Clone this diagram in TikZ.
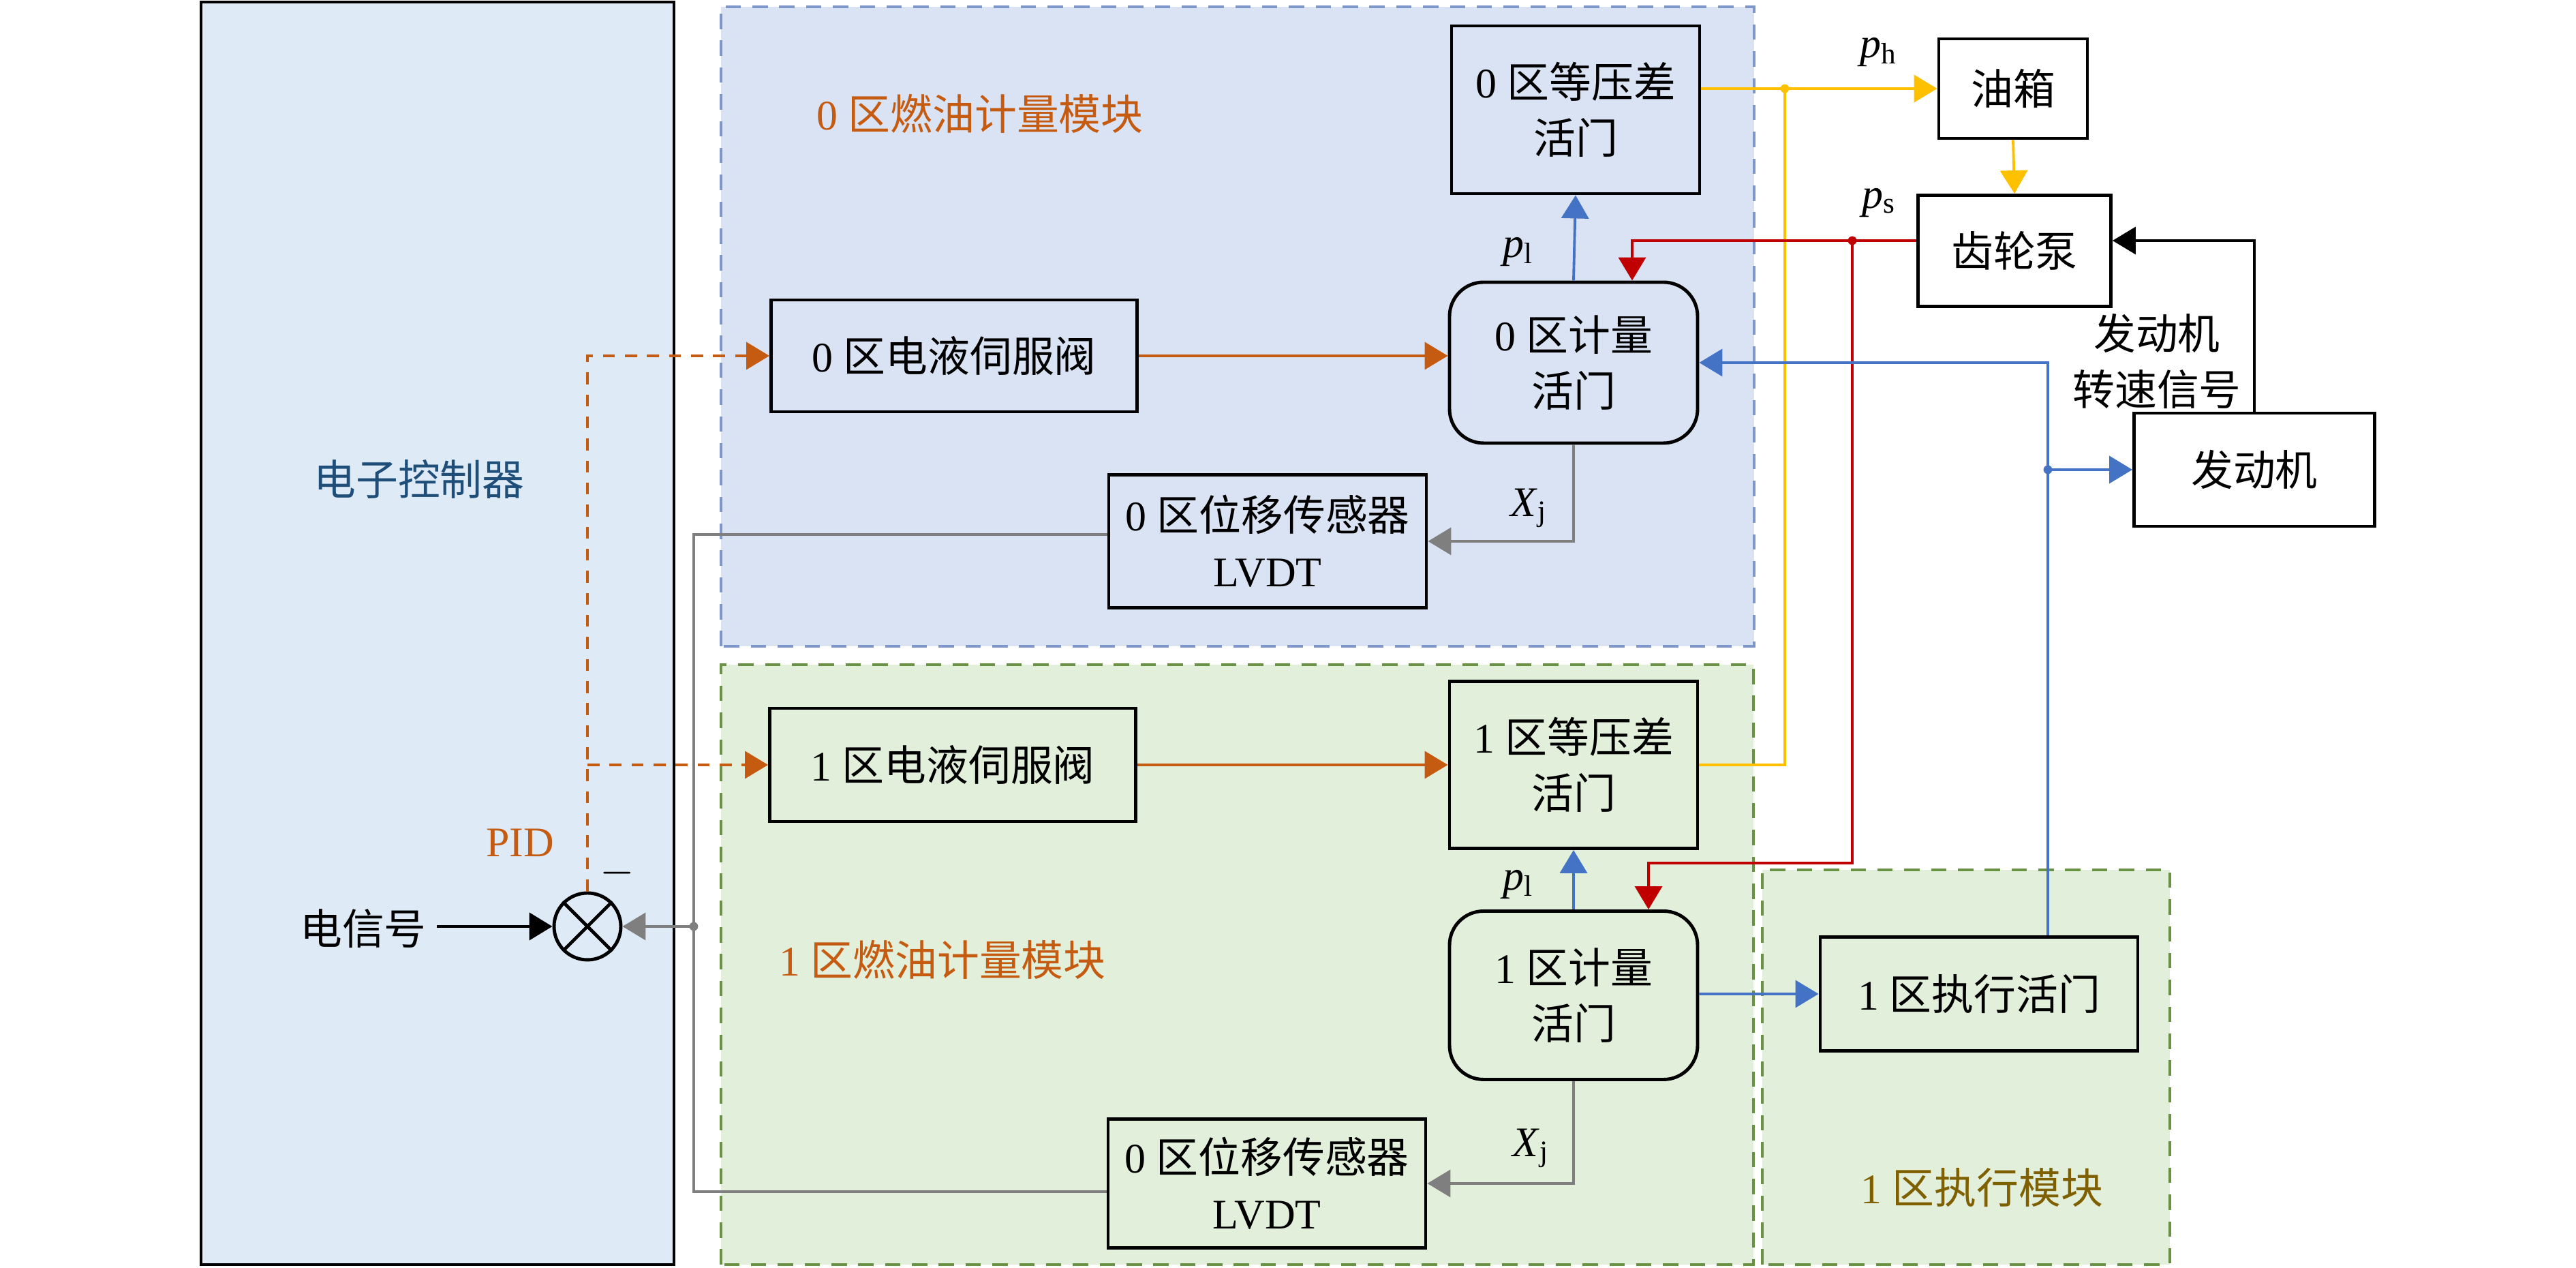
\documentclass[tikz,border=0pt]{standalone}
\usepackage{fontspec}
\setmainfont{Liberation Serif}
\newfontfamily\cjk{Noto Sans CJK SC}
\usetikzlibrary{arrows.meta}

\definecolor{zoneA}{HTML}{DAE3F3}
\definecolor{zoneAline}{HTML}{7F96C8}
\definecolor{zoneB}{HTML}{E2EFDA}
\definecolor{zoneBline}{HTML}{6A9245}
\definecolor{ecufill}{HTML}{DEEBF7}
\definecolor{ecutext}{HTML}{1F4E79}
\definecolor{ctlorange}{HTML}{C55A11}
\definecolor{fuelyellow}{HTML}{FFC000}
\definecolor{hpred}{HTML}{C00000}
\definecolor{sigblue}{HTML}{4472C4}
\definecolor{fbgray}{HTML}{7F7F7F}
\definecolor{actolive}{HTML}{7F6000}

\newcommand{\cn}[1]{{\cjk #1}}

\begin{document}
\begin{tikzpicture}[font=\fontsize{8.8}{11.6}\selectfont,
    blk/.style={draw, line width=0.7pt, align=center, inner sep=0pt},
    valve/.style={blk, rounded corners=0.25cm},
    tip/.style={-{Triangle[length=1.7mm,width=2mm]}},
    fuel/.style={draw=fuelyellow, line width=0.55pt},
    hp/.style={draw=hpred, line width=0.55pt},
    sig/.style={draw=sigblue, line width=0.55pt},
    fb/.style={draw=fbgray, line width=0.55pt},
    ctl/.style={draw=ctlorange, line width=0.55pt},
    ctldash/.style={ctl, dash pattern=on 2.5pt off 2.1pt},
    zone/.style={line width=0.7pt, dash pattern=on 3.2pt off 2.4pt}]
    \def\vw{1.82}  % valve width
    \def\sw{2.685} % servo width
    \def\lw{2.33}  % sensor width

    \useasboundingbox (0,0) rectangle (18.9,9.3);

    % Controller and module areas
    \draw[line width=0.7pt, fill=ecufill] (1.475,0.025) rectangle (4.945,9.285);
    \draw[zone, draw=zoneAline, fill=zoneA] (5.29,4.56) rectangle (12.87,9.25);
    \draw[zone, draw=zoneBline, fill=zoneB] (5.29,0.025) rectangle (12.865,4.425);
    \draw[zone, draw=zoneBline, fill=zoneB] (12.93,0.025) rectangle (15.92,2.92);

    \node[text=ecutext] (ecu) at (3.075,5.785) {\cn{电子控制器}};
    \node[text=ctlorange] (modA) at (7.19,8.465) {0 \cn{区燃油计量模块}};
    \node[text=ctlorange] (modB) at (6.915,2.26) {1 \cn{区燃油计量模块}};
    \node[text=actolive] (modC) at (14.54,0.59) {1 \cn{区执行模块}};

    % Zone 0
    \node[blk, minimum width=\vw cm, minimum height=1.23cm] (dp0) at (11.56,8.495) {0 \cn{区等压差}\\\cn{活门}};
    \node[valve, minimum width=\vw cm, minimum height=1.18cm] (meter0) at (11.545,6.64) {0 \cn{区计量}\\\cn{活门}};
    \node[blk, minimum width=\sw cm, minimum height=0.82cm] (servo0) at (7.0,6.69) {0 \cn{区电液伺服阀}};
    \node[blk, minimum width=\lw cm, minimum height=0.975cm] (lvdt0) at (9.30,5.33) {0 \cn{区位移传感器}\\LVDT};

    % Zone 1
    \node[blk, minimum width=\sw cm, minimum height=0.83cm] (servo1) at (6.99,3.69) {1 \cn{区电液伺服阀}};
    \node[blk, minimum width=\vw cm, minimum height=1.225cm] (dp1) at (11.545,3.69) {1 \cn{区等压差}\\\cn{活门}};
    \node[valve, minimum width=\vw cm, minimum height=1.235cm] (meter1) at (11.545,2.00) {1 \cn{区计量}\\\cn{活门}};
    \node[blk, minimum width=\lw cm, minimum height=0.945cm] (lvdt1) at (9.295,0.62) {0 \cn{区位移传感器}\\LVDT};
    \node[blk, minimum width=\lw cm, minimum height=0.835cm] (act1) at (14.52,2.01) {1 \cn{区执行活门}};

    % Fuel supply and engine
    \node[blk, minimum width=1.09cm, minimum height=0.73cm] (tank) at (14.77,8.65) {\cn{油箱}};
    \node[blk, minimum width=1.415cm, minimum height=0.815cm] (pump) at (14.78,7.46) {\cn{齿轮泵}};
    \node[blk, minimum width=1.765cm, minimum height=0.83cm] (engine) at (16.54,5.855) {\cn{发动机}};
    \node[align=center] (spd) at (15.825,6.65) {\cn{发动机}\\\cn{转速信号}};

    % Comparator
    \node[draw, circle, line width=0.7pt, minimum size=0.49cm, inner sep=0pt] (sum) at (4.31,2.505) {};
    \draw[line width=0.7pt] (sum.north west) -- (sum.south east) (sum.north east) -- (sum.south west);
    \node[inner sep=2pt] (elec) at (2.665,2.49) {\cn{电信号}};
    \node[text=ctlorange] (pid) at (3.815,3.12) {PID};
    \node (minus) at (4.53,2.895) {$-$};

    % Pressure and position labels
    \node (ph) at (13.79,8.915) {\textit{p}\textsubscript{h}};
    \node (ps) at (13.79,7.81) {\textit{p}\textsubscript{s}};
    \node (pl0) at (11.145,7.45) {\textit{p}\textsubscript{l}};
    \node (pl1) at (11.145,2.81) {\textit{p}\textsubscript{l}};
    \node (xj0) at (11.22,5.575) {\textit{X}\textsubscript{j}};
    \node (xj1) at (11.235,0.88) {\textit{X}\textsubscript{j}};

    % Junctions
    \coordinate (jy) at (13.095,8.65);
    \coordinate (jr) at (13.59,7.535);
    \coordinate (jr2) at (13.59,2.97);
    \coordinate (jb) at (15.025,5.855);
    \coordinate (jg) at (5.09,2.505);

    % Fuel lines
    \draw[fuel, tip] (dp0.east |- tank.west) -- (tank.west);
    \draw[fuel] (jy) |- (dp1.east);
    \draw[fuel, tip] (tank.south) -- (pump.north);
    \draw[hp, tip] ([yshift=0.75mm]pump.west) -| ([xshift=4.3mm]meter0.north);
    \draw[hp, tip] (jr) -- (jr2) -| ([xshift=5.5mm]meter1.north);
    \draw[line width=0.55pt, tip] (engine.north) |- ([yshift=0.75mm]pump.east);

    % Signals
    \draw[sig, tip] (meter0.north) -- (dp0.south);
    \draw[sig, tip] (meter1.north) -- (dp1.south);
    \draw[sig, tip] (meter1.east |- act1.west) -- (act1.west);
    \draw[sig, tip] ([xshift=5.05mm]act1.north) |- (meter0.east);
    \draw[sig, tip] (jb) -- (engine.west);

    \draw[ctl, tip] (servo0.east) -- (servo0.east -| meter0.west);
    \draw[ctl, tip] (servo1.east) -- (dp1.west);
    \draw[ctldash, tip] (sum.north) |- (servo0.west);
    \draw[ctldash, tip] (sum.north |- servo1.west) -- (servo1.west);

    % Position feedback
    \draw[fb, tip] (meter0.south) |- (lvdt0.east);
    \draw[fb, tip] (meter1.south) |- (lvdt1.east);
    \draw[fb] ([yshift=0.5mm]lvdt0.west) -| (jg) |- ([yshift=-0.6mm]lvdt1.west);
    \draw[fb, tip] (jg) -- (sum.east);
    \draw[line width=0.7pt, tip] (sum.west -| elec.east) -- (sum.west);

    \fill[fuelyellow] (jy) circle (0.032);
    \fill[hpred] (jr) circle (0.032);
    \fill[sigblue] (jb) circle (0.032);
    \fill[fbgray] (jg) circle (0.032);
\end{tikzpicture}
\end{document}
